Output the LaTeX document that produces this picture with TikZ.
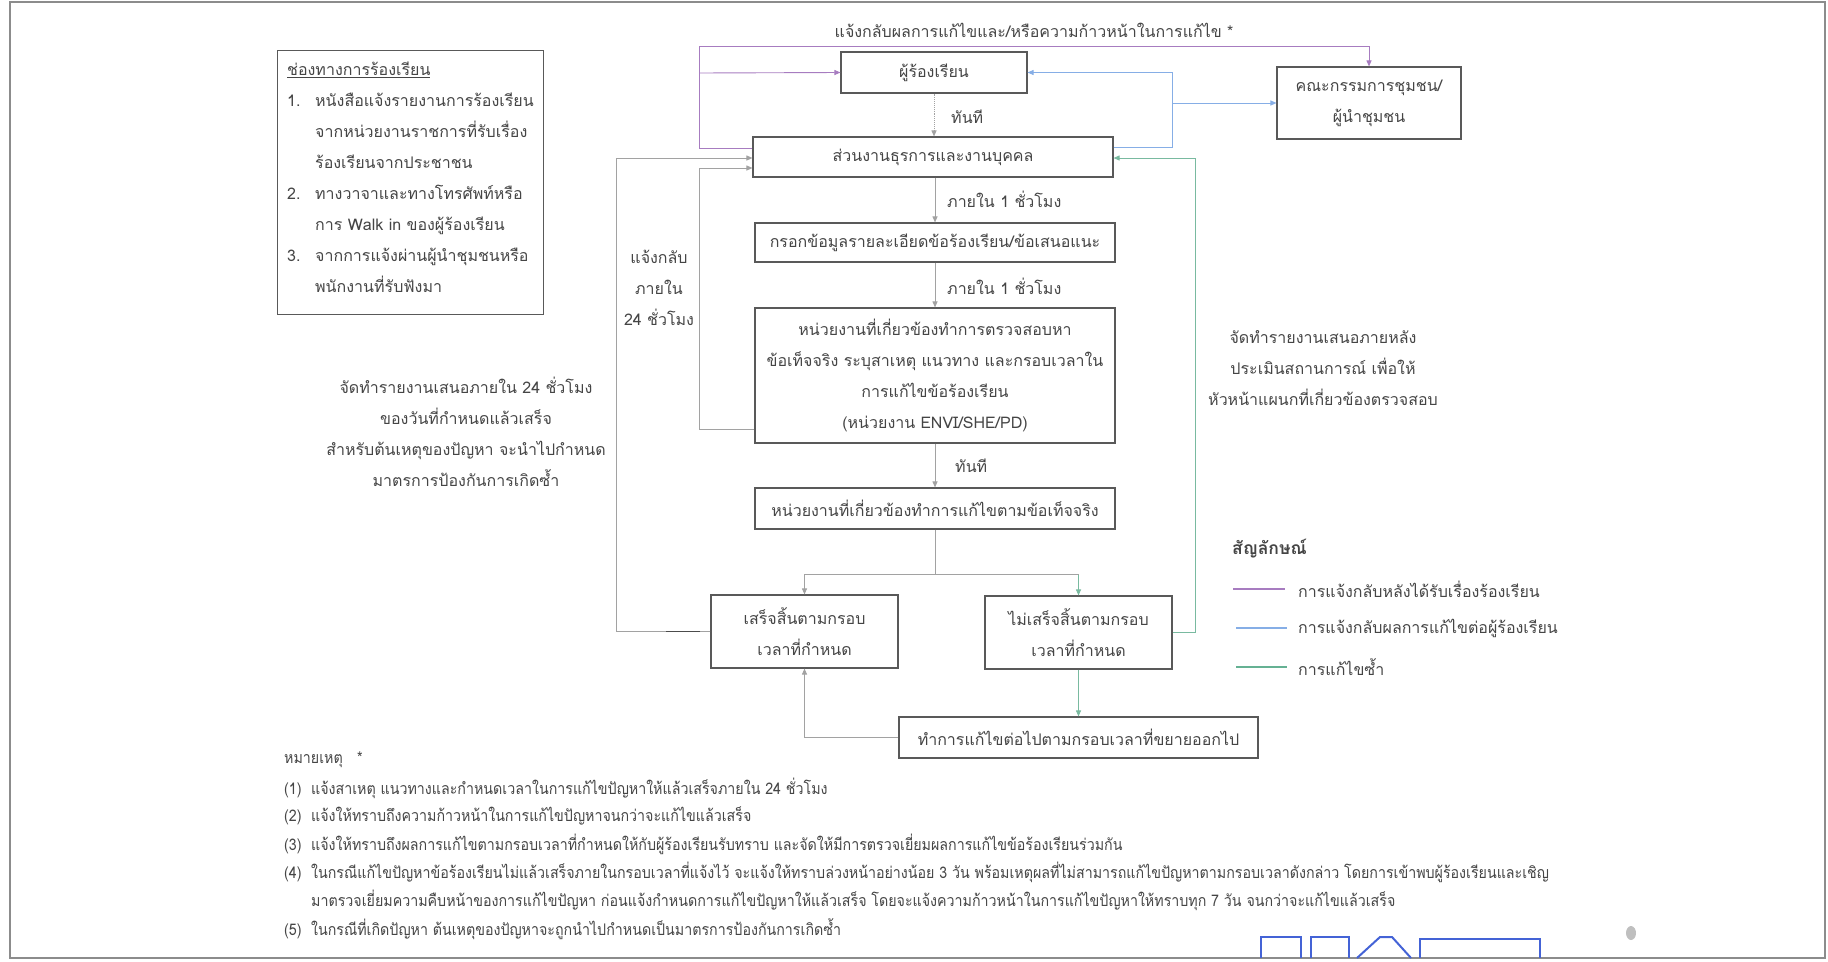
\documentclass[tikz,border=0pt]{standalone}
\usepackage{fontspec}
\setmainfont{Loma}[Script=Thai]
\newfontfamily\notefont{Loma}[Script=Thai,FakeStretch=0.89]
\usetikzlibrary{positioning,arrows.meta,calc}
\definecolor{LineGray}{HTML}{A2A2A2}
\definecolor{TxtGray}{HTML}{454545}
\definecolor{Purp}{HTML}{A77CC0}
\definecolor{LBlue}{HTML}{86AEE6}
\definecolor{Grn}{HTML}{3F9D78}
\definecolor{StampBlue}{HTML}{4463D6}

\begin{document}
\begin{tikzpicture}[x=1pt, y=-1pt,
  box/.style={draw=black!65, line width=1.1pt, fill=white, align=center, text=TxtGray, font=\fontsize{16}{31}\selectfont, inner sep=0pt},
  lbl/.style={text=TxtGray, font=\fontsize{16}{31}\selectfont, align=center, inner sep=0pt},
  note/.style={text=TxtGray, font=\notefont\fontsize{16}{28}\selectfont, anchor=west, inner sep=0pt},
  tip/.style={-{Triangle[length=6pt,width=5pt]}},
  gline/.style={draw=LineGray, line width=0.9pt},
  pline/.style={draw=Purp, line width=0.9pt},
  bline/.style={draw=LBlue, line width=0.9pt},
  grline/.style={draw=Grn!70, line width=0.9pt}]
\useasboundingbox (0,0) rectangle (1828,961);
\draw[black!45, line width=2pt] (10,2) rectangle (1825,958);

% boxes
\node[box, minimum width=266pt, minimum height=264pt, anchor=north west] (chan) at (277,50) {};
\node[lbl, align=left, anchor=north west] (chanTxt) at ([shift={(10pt,-12pt)}]chan.north west)
  {\underline{ช่องทางการร้องเรียน}\\
   \makebox[28pt][l]{1.}หนังสือแจ้งรายงานการร้องเรียน\\
   \hspace*{28pt}จากหน่วยงานราชการที่รับเรื่อง\\
   \hspace*{28pt}ร้องเรียนจากประชาชน\\
   \makebox[28pt][l]{2.}ทางวาจาและทางโทรศัพท์หรือ\\
   \hspace*{28pt}การ Walk in ของผู้ร้องเรียน\\
   \makebox[28pt][l]{3.}จากการแจ้งผ่านผู้นำชุมชนหรือ\\
   \hspace*{28pt}พนักงานที่รับฟังมา};
\node[box, minimum width=186pt, minimum height=41pt] (comp) at (934,72.5) {ผู้ร้องเรียน};
\node[box, minimum width=184pt, minimum height=72pt] (comm) at (1369,103) {คณะกรรมการชุมชน/\\ผู้นำชุมชน};
\node[box, minimum width=360pt, minimum height=40pt] (admin) at (933,157) {ส่วนงานธุรการและงานบุคคล};
\node[box, minimum width=360pt, minimum height=39pt] (entry) at (935,242.5) {กรอกข้อมูลรายละเอียดข้อร้องเรียน/ข้อเสนอแนะ};
\node[box, minimum width=360pt, minimum height=135pt] (inspect) at (935,375.5)
  {หน่วยงานที่เกี่ยวข้องทำการตรวจสอบหา\\ข้อเท็จจริง ระบุสาเหตุ แนวทาง และกรอบเวลาใน\\การแก้ไขข้อร้องเรียน\\(หน่วยงาน ENVI/SHE/PD)};
\node[box, minimum width=360pt, minimum height=41pt] (fix) at (935,508.5) {หน่วยงานที่เกี่ยวข้องทำการแก้ไขตามข้อเท็จจริง};
\node[box, minimum width=187pt, minimum height=73pt] (done) at (804.5,631.5) {เสร็จสิ้นตามกรอบ\\เวลาที่กำหนด};
\node[box, minimum width=187pt, minimum height=73pt] (undone) at (1078.5,632.5) {ไม่เสร็จสิ้นตามกรอบ\\เวลาที่กำหนด};
\node[box, minimum width=359pt, minimum height=41pt] (extend) at (1078.5,737.5) {ทำการแก้ไขต่อไปตามกรอบเวลาที่ขยายออกไป};

% labels
\node[lbl] (topLbl) at (1034,30) {แจ้งกลับผลการแก้ไขและ/หรือความก้าวหน้าในการแก้ไข *};
\node[lbl, anchor=west] (now1) at (951,117) {ทันที};
\node[lbl, anchor=west] (hr1) at (947,199) {ภายใน 1 ชั่วโมง};
\node[lbl, anchor=west] (hr2) at (947,286) {ภายใน 1 ชั่วโมง};
\node[lbl, anchor=west] (now2) at (955,466) {ทันที};
\node[lbl] (back24) at (659,288) {แจ้งกลับ\\ภายใน\\24 ชั่วโมง};
\node[lbl] (leftNote) at (466,432) {จัดทำรายงานเสนอภายใน 24 ชั่วโมง\\ของวันที่กำหนดแล้วเสร็จ\\สำหรับต้นเหตุของปัญหา จะนำไปกำหนด\\มาตรการป้องกันการเกิดซ้ำ};
\node[lbl] (rightNote) at (1323,368) {จัดทำรายงานเสนอภายหลัง\\ประเมินสถานการณ์ เพื่อให้\\หัวหน้าแผนกที่เกี่ยวข้องตรวจสอบ};

% purple
\draw[pline, tip] (admin.west |- 0,148) -- (699,148) -- (699,46) -| (comm.north);
\draw[pline, tip] (699,73) -- (comp.west);
% blue
\draw[bline, tip] (admin.east |- 0,147) -- (1172,147) |- (comp.east);
\draw[bline, tip] (1172,103) -- (comm.west);
% green
\draw[grline, tip] (undone.east) -- (1195,632.5) |- (admin.east |- 0,158);
% grey loops
\draw[gline, tip] (done.west) -- (616,631.5) |- (admin.west |- 0,158);
\draw[black!70, line width=1.3pt] (done.west) ++(-10,0) -- ++(-34,0);
\draw[gline, tip] (inspect.west |- 0,429) -- (699,429) |- (admin.west |- 0,168);

% main column
\draw[gline, densely dotted, tip] (comp.south) -- (comp.south |- admin.north);
\draw[gline, tip] (admin.south -| entry.north) -- (entry.north);
\draw[gline, tip] (entry.south) -- (inspect.north);
\draw[gline, tip] (inspect.south) -- (fix.north);
\draw[gline] (fix.south) -- ++(0,45) coordinate (split);
\draw[gline, tip] (split) -| (done.north);
\draw[gline] (split) -- (split -| undone.north) coordinate (splitR);
\draw[grline, tip] (splitR) -- (undone.north);
\draw[grline, tip] (undone.south) -- (undone.south |- extend.north);
\draw[gline, tip] (extend.west) -| (done.south);

% legend
\node[lbl, anchor=west, font=\fontsize{17.5}{31}\selectfont\bfseries] (legTitle) at (1232,549) {สัญลักษณ์};
\draw[Purp, line width=1.3pt] (1233,589) -- (1285,589);
\draw[LBlue, line width=1.3pt] (1236,628) -- (1287,628);
\draw[Grn!80, line width=1.3pt] (1236,667) -- (1287,667);
\node[lbl, anchor=west] (leg1) at (1298,589) {การแจ้งกลับหลังได้รับเรื่องร้องเรียน};
\node[lbl, anchor=west] (leg2) at (1298,628) {การแจ้งกลับผลการแก้ไขต่อผู้ร้องเรียน};
\node[lbl, anchor=west] (leg3) at (1298,667) {การแก้ไขซ้ำ};

% notes
\node[note] (n0) at (284,760) {หมายเหตุ \ \ *};
\node[note] (n1) at (284,788) {(1) \ แจ้งสาเหตุ แนวทางและกำหนดเวลาในการแก้ไขปัญหาให้แล้วเสร็จภายใน 24 ชั่วโมง};
\node[note] (n2) at (284,816) {(2) \ แจ้งให้ทราบถึงความก้าวหน้าในการแก้ไขปัญหาจนกว่าจะแก้ไขแล้วเสร็จ};
\node[note] (n3) at (284,844) {(3) \ แจ้งให้ทราบถึงผลการแก้ไขตามกรอบเวลาที่กำหนดให้กับผู้ร้องเรียนรับทราบ และจัดให้มีการตรวจเยี่ยมผลการแก้ไขข้อร้องเรียนร่วมกัน};
\node[note] (n4) at (284,872) {(4) \ ในกรณีแก้ไขปัญหาข้อร้องเรียนไม่แล้วเสร็จภายในกรอบเวลาที่แจ้งไว้ จะแจ้งให้ทราบล่วงหน้าอย่างน้อย 3 วัน พร้อมเหตุผลที่ไม่สามารถแก้ไขปัญหาตามกรอบเวลาดังกล่าว โดยการเข้าพบผู้ร้องเรียนและเชิญ};
\node[note] (n4b) at (311,900) {มาตรวจเยี่ยมความคืบหน้าของการแก้ไขปัญหา ก่อนแจ้งกำหนดการแก้ไขปัญหาให้แล้วเสร็จ โดยจะแจ้งความก้าวหน้าในการแก้ไขปัญหาให้ทราบทุก 7 วัน จนกว่าจะแก้ไขแล้วเสร็จ};
\node[note] (n5) at (284,929) {(5) \ ในกรณีที่เกิดปัญหา ต้นเหตุของปัญหาจะถูกนำไปกำหนดเป็นมาตรการป้องกันการเกิดซ้ำ};

% stamp fragment and smudge
\draw[StampBlue, line width=2pt] (1261,958) |- (1301,937) -- (1301,958);
\draw[StampBlue, line width=2pt] (1311,958) |- (1349,937) -- (1349,958);
\draw[StampBlue, line width=2pt] (1357,958) -- (1380,937) -- (1392,937) -- (1411,958);
\draw[StampBlue, line width=2pt] (1420,958) |- (1540,939) -- (1540,958);
\fill[black!25] (1631,933) ellipse (5pt and 7pt);
\end{tikzpicture}
\end{document}
